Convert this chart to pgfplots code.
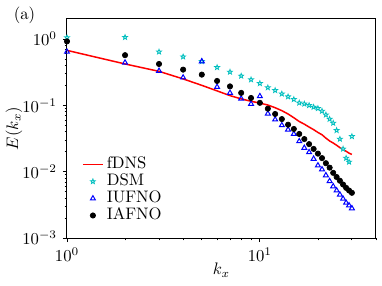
\documentclass[border=0pt]{standalone}
\usepackage{pgfplots}
\pgfplotsset{compat=1.18}
\definecolor{mcyan}{rgb}{0,0.75,0.75}
\pgfdeclareplotmark{fivestar}{%
  \pgfpathmoveto{\pgfpointpolar{90}{\pgfplotmarksize}}%
  \pgfpathlineto{\pgfpointpolar{126}{0.42\pgfplotmarksize}}%
  \pgfpathlineto{\pgfpointpolar{162}{\pgfplotmarksize}}%
  \pgfpathlineto{\pgfpointpolar{198}{0.42\pgfplotmarksize}}%
  \pgfpathlineto{\pgfpointpolar{234}{\pgfplotmarksize}}%
  \pgfpathlineto{\pgfpointpolar{270}{0.42\pgfplotmarksize}}%
  \pgfpathlineto{\pgfpointpolar{306}{\pgfplotmarksize}}%
  \pgfpathlineto{\pgfpointpolar{342}{0.42\pgfplotmarksize}}%
  \pgfpathlineto{\pgfpointpolar{18}{\pgfplotmarksize}}%
  \pgfpathlineto{\pgfpointpolar{54}{0.42\pgfplotmarksize}}%
  \pgfpathclose
  \pgfusepathqfillstroke
}
\pgfplotsset{
  lineleg/.style={legend image code/.code={\draw[##1] (0pt,0pt) -- (12pt,0pt);}},
  markleg/.style={legend image code/.code={\draw[##1] plot coordinates {(6pt,0pt)};}},
}
\begin{document}
\begin{tikzpicture}
\begin{axis}[name=ax, scale only axis, width=185.4pt, height=131.4pt,
  xmode=log, ymode=log, xmin=1, xmax=40, ymin=1e-3, ymax=2,
  xtick={1,10}, ytick={1e-3,1e-2,1e-1,1},
  minor xtick={2,3,4,5,6,7,8,9,20,30,40},
  tick pos=left, tick align=outside,
  major tick length=2.5pt, minor tick length=1.5pt,
  axis line style={line width=0.6pt}, every tick/.style={black, line width=0.5pt},
  xlabel={$k_x$}, ylabel={$E(k_x)$},
  xlabel style={at={(axis description cs:0.5,-0.146)}, anchor=center},
  ylabel style={at={(axis description cs:-0.1715,0.5)}, anchor=center},
  legend cell align=left,
  legend style={draw=none, fill=none, at={(0.048,0.376)}, anchor=north west,
    inner sep=0pt, column sep=1.2pt,
    nodes={inner sep=0.7pt, text height=6.8pt, text depth=2pt}},
]
\addplot[red, line width=0.9pt, mark=none, lineleg] coordinates {
(1,0.673)(2,0.42)(3,0.325)(4,0.25)(5,0.2)(6,0.165)(7,0.14)(8,0.125)(9,0.115)(10,0.108)
(11,0.101)(12,0.092)(13,0.083)(14,0.074)(15,0.065)(16,0.057)(17,0.052)(18,0.047)(19,0.043)(20,0.039)
(21,0.036)(22,0.032)(23,0.029)(24,0.027)(25,0.025)(26,0.023)(27,0.0215)(28,0.0203)(29,0.019)(30,0.0182)};
\addlegendentry{fDNS}
\addplot[only marks, mark=fivestar, mark size=1.5pt, draw=mcyan, fill=white, mark options={line width=0.5pt}, markleg] coordinates {
(1,1.05)(2,1.06)(3,0.64)(4,0.54)(5,0.46)(6,0.373)(7,0.318)(8,0.277)(9,0.244)(10,0.214)
(11,0.185)(12,0.168)(13,0.149)(14,0.135)(15,0.123)(16,0.109)(17,0.105)(18,0.100)(19,0.094)(20,0.090)
(21,0.082)(22,0.072)(23,0.062)(24,0.054)(25,0.042)(26,0.031)(27,0.022)(28,0.016)(29,0.014)(30,0.034)};
\addlegendentry{DSM}
\addplot[only marks, mark=triangle, mark size=1.7pt, blue, mark options={line width=0.6pt}, markleg] coordinates {
(1,0.64)(2,0.44)(3,0.33)(4,0.262)(5,0.46)(6,0.189)(7,0.154)(8,0.126)(9,0.105)(10,0.137)
(11,0.075)(12,0.061)(13,0.050)(14,0.043)(15,0.037)(16,0.0287)(17,0.0228)(18,0.0196)(19,0.0156)(20,0.0124)
(21,0.0108)(22,0.0088)(23,0.0072)(24,0.0060)(25,0.0052)(26,0.0045)(27,0.0039)(28,0.0034)(29,0.0031)(30,0.0028)};
\addlegendentry{IUFNO}
\addplot[only marks, mark=*, mark size=1.6pt, black, markleg] coordinates {
(1,0.92)(2,0.57)(3,0.42)(4,0.345)(5,0.29)(6,0.233)(7,0.193)(8,0.154)(9,0.129)(10,0.109)
(11,0.089)(12,0.074)(13,0.062)(14,0.051)(15,0.044)(16,0.037)(17,0.031)(18,0.026)(19,0.022)(20,0.0187)
(21,0.016)(22,0.0134)(23,0.0115)(24,0.0096)(25,0.0083)(26,0.0073)(27,0.0064)(28,0.0057)(29,0.0052)(30,0.0048)};
\addlegendentry{IAFNO}
\end{axis}
\node at ([shift={(-25.5pt,2.4pt)}]ax.north west) {(a)};
\pgfresetboundingbox
\path ([shift={(-40.2pt,-28.8pt)}]ax.south west) rectangle ([shift={(3.6pt,11.4pt)}]ax.north east);
\end{tikzpicture}
\end{document}
